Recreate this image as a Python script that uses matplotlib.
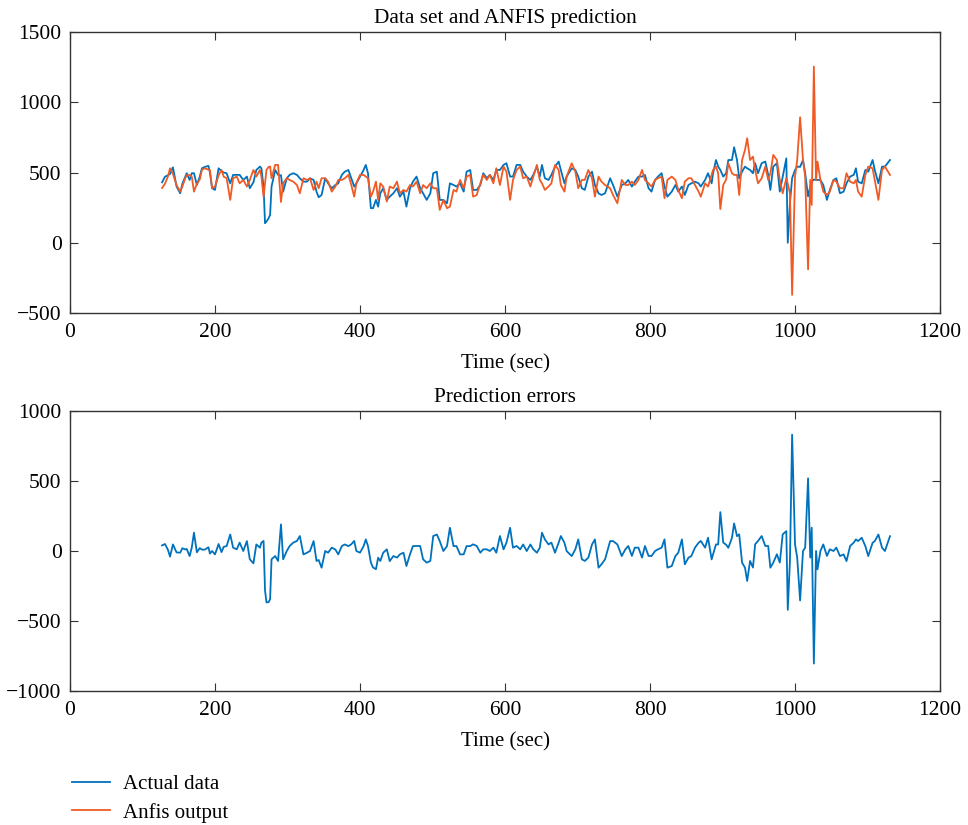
import matplotlib
matplotlib.use("Agg")
import matplotlib.pyplot as plt
import numpy as np

plt.rcParams['font.family'] = ['Liberation Serif', 'DejaVu Serif']

# time (sec), actual data and ANFIS output
time = [127, 131, 135, 138, 142, 147, 152, 155, 159, 161, 165, 168, 171, 175, 179,
        182, 186, 191, 193, 196, 200, 205, 209, 212, 216, 221, 225, 230, 234, 239,
        244, 248, 253, 257, 262, 264, 267, 269, 271, 274, 276, 278, 283, 287, 291,
        294, 299, 303, 308, 313, 317, 322, 327, 331, 336, 340, 343, 347, 352, 356,
        361, 366, 370, 375, 379, 384, 388, 392, 395, 400, 405, 408, 411, 415, 418,
        422, 425, 428, 432, 437, 441, 446, 451, 455, 460, 464, 469, 473, 478, 483,
        487, 492, 497, 501, 506, 510, 515, 520, 524, 529, 533, 538, 543, 547, 552,
        556, 561, 566, 570, 575, 579, 584, 588, 593, 598, 602, 607, 611, 616, 621,
        625, 630, 635, 639, 644, 648, 651, 655, 660, 664, 669, 674, 677, 682, 685,
        692, 697, 701, 706, 710, 715, 720, 724, 729, 733, 738, 745, 749, 755, 761,
        766, 770, 775, 779, 784, 789, 793, 798, 802, 807, 811, 816, 820, 824, 830,
        835, 839, 844, 848, 853, 857, 862, 867, 870, 876, 880, 885, 887, 891, 894,
        897, 901, 905, 908, 913, 916, 920, 923, 927, 931, 934, 938, 942, 945, 949,
        954, 959, 963, 966, 970, 975, 979, 983, 988, 990, 993, 996, 1000, 1003, 1007,
        1011, 1014, 1018, 1021, 1023, 1026, 1029, 1031, 1035, 1039, 1044, 1048, 1053, 1057, 1062,
        1067, 1071, 1076, 1081, 1084, 1087, 1092, 1097, 1101, 1107, 1110, 1115, 1120, 1124, 1131]

actual = [430, 470, 480, 490, 537, 400, 352, 420, 471, 495, 447, 495, 495, 411, 471,
          530, 540, 547, 500, 388, 376, 530, 510, 500, 495, 423, 483, 483, 483, 447,
          471, 388, 430, 518, 542, 530, 400, 139, 151, 175, 198, 400, 518, 483, 480,
          364, 459, 483, 495, 483, 459, 435, 435, 459, 447, 364, 324, 340, 459, 423,
          388, 411, 423, 483, 506, 518, 459, 400, 423, 471, 518, 554, 495, 246, 246,
          305, 257, 352, 388, 305, 328, 352, 388, 328, 364, 257, 388, 435, 471, 388,
          352, 305, 352, 495, 506, 305, 305, 281, 423, 411, 400, 423, 364, 506, 518,
          376, 376, 411, 495, 459, 483, 447, 518, 518, 554, 566, 471, 471, 554, 554,
          506, 471, 447, 483, 542, 471, 554, 459, 447, 483, 542, 578, 518, 423, 471,
          530, 518, 471, 388, 376, 471, 506, 411, 352, 340, 352, 459, 411, 328, 411,
          423, 447, 400, 435, 471, 471, 483, 388, 364, 447, 471, 495, 400, 328, 364,
          411, 364, 400, 340, 411, 423, 435, 423, 400, 447, 495, 423, 495, 589, 542,
          518, 471, 495, 589, 589, 680, 589, 459, 506, 542, 530, 518, 495, 566, 495,
          566, 578, 483, 376, 542, 566, 364, 471, 601, 0, 281, 460, 518, 542, 540,
          589, 495, 330, 400, 435, 450, 447, 447, 447, 411, 305, 376, 447, 459, 352,
          364, 423, 471, 483, 530, 435, 423, 518, 506, 589, 518, 423, 542, 542, 589]

anfis = [390, 420, 470, 530, 490, 410, 364, 400, 460, 480, 483, 470, 364, 420, 450,
         520, 530, 520, 518, 388, 400, 480, 518, 470, 460, 305, 459, 471, 423, 447,
         400, 447, 518, 471, 518, 470, 328, 420, 518, 540, 542, 459, 554, 554, 290,
         423, 459, 447, 435, 411, 352, 459, 447, 459, 376, 435, 388, 459, 459, 435,
         364, 400, 447, 447, 459, 483, 411, 328, 423, 483, 483, 471, 459, 328, 364,
         435, 305, 423, 400, 293, 400, 388, 435, 352, 376, 364, 411, 400, 435, 352,
         411, 388, 423, 388, 388, 234, 305, 246, 257, 376, 364, 447, 388, 471, 483,
         328, 340, 423, 483, 447, 483, 423, 530, 411, 542, 506, 305, 447, 518, 542,
         459, 471, 400, 471, 554, 447, 423, 376, 400, 423, 554, 518, 411, 364, 471,
         566, 506, 388, 447, 447, 518, 459, 328, 471, 435, 411, 388, 340, 281, 447,
         411, 411, 435, 411, 447, 518, 447, 423, 400, 447, 459, 471, 317, 447, 471,
         447, 376, 317, 435, 459, 459, 411, 364, 328, 423, 400, 483, 518, 542, 495,
         240, 411, 450, 566, 495, 483, 483, 340, 589, 661, 744, 589, 613, 518, 423,
         459, 542, 447, 495, 625, 589, 447, 352, 459, 420, 352, -371, 471, 589, 893,
         589, 471, -189, 447, 269, 1254, 447, 578, 447, 364, 340, 364, 447, 435, 388,
         388, 495, 435, 423, 447, 364, 328, 483, 542, 530, 447, 305, 518, 542, 483]

# prediction error = actual data - ANFIS output
errors = np.array(actual) - np.array(anfis)

blue = '#0072BD'
orange = '#F05A24'

fig = plt.figure(figsize=(9.68, 8.25), dpi=100)
ax1 = fig.add_axes([0.0723, 0.6206, 0.8988, 0.3406])
ax2 = fig.add_axes([0.0723, 0.1624, 0.8988, 0.3394])

l1, = ax1.plot(time, actual, color=blue, lw=1.3, label='Actual data')
l2, = ax1.plot(time, anfis, color=orange, lw=1.3, label='Anfis output')
ax1.set_xlim(0, 1200)
ax1.set_ylim(-500, 1500)
ax1.set_yticks([-500, 0, 500, 1000, 1500])
ax1.set_title('Data set and ANFIS prediction', fontsize=15.3, pad=6.5)
ax1.set_xlabel('Time (sec)', fontsize=15, labelpad=9)

ax2.plot(time, errors, color=blue, lw=1.3)
ax2.set_xlim(0, 1200)
ax2.set_ylim(-1000, 1000)
ax2.set_yticks([-1000, -500, 0, 500, 1000])
ax2.set_title('Prediction errors', fontsize=15.3, pad=6.5)
ax2.set_xlabel('Time (sec)', fontsize=15, labelpad=9)

for ax in (ax1, ax2):
    ax.tick_params(direction='in', top=True, right=True, labelsize=15.5,
                   length=6, color='#333333')
    ax.tick_params(axis='y', pad=6)
    ax.tick_params(axis='x', pad=7)
    for s in ax.spines.values():
        s.set_color('#333333')
        s.set_linewidth(1.0)

fig.legend(handles=[l1, l2], loc='upper left', bbox_to_anchor=(72 / 968, 0.061),
           frameon=False, fontsize=15, handlelength=1.8, handletextpad=0.65,
           labelspacing=0.41, borderpad=0, borderaxespad=0)

fig.savefig('out.png', dpi=100)
